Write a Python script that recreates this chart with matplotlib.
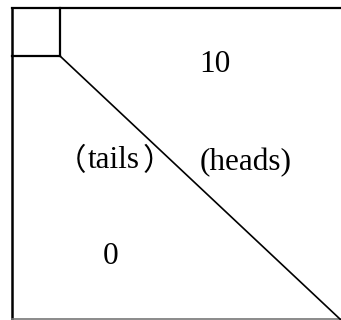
import matplotlib
matplotlib.use("Agg")
import matplotlib.pyplot as plt

# labels placed in the regions of the diagram
labels = ["10", "tails", "(heads)", "0"]
label_xy = [(215, 64), (114, 161), (246, 163), (111, 257)]

# box geometry in pixel units (y downwards)
box_left, box_top, box_right, box_bottom = 12, 8, 341, 319
corner = 48  # side of the small square in the top-left corner

fig = plt.figure(figsize=(3.41, 3.20), dpi=100)
ax = fig.add_axes([0, 0, 1, 1])
ax.set_xlim(0, 341)
ax.set_ylim(320, 0)
ax.axis("off")

# outer frame: top, left, bottom (no right edge)
ax.plot([box_left, box_right], [box_top, box_top], color="black", lw=1.6)
ax.plot([box_left, box_left], [box_top, 320], color="black", lw=1.8)
ax.plot([box_left, box_right], [box_bottom, box_bottom], color="#777777", lw=1.2)

# small square
cx, cy = box_left + corner, box_top + corner
ax.plot([cx, cx], [box_top, cy], color="black", lw=1.6)
ax.plot([box_left, cx], [cy, cy], color="black", lw=1.6)

# diagonal
ax.plot([cx, box_right], [cy, 320], color="black", lw=1.2)

serif = ["Liberation Serif", "Noto Sans CJK SC"]
for txt, (x, y) in zip(labels, label_xy):
    ax.text(x, y, txt, ha="center", va="center", fontsize=22.5, family=serif)

# full-width brackets around "tails"
cjk = ["Noto Sans CJK SC", "DejaVu Sans"]
ax.text(86, 162, "（", ha="right", va="center", fontsize=22, family=cjk,
        fontweight="light")
ax.text(143, 162, "）", ha="left", va="center", fontsize=22, family=cjk,
        fontweight="light")

fig.savefig("out.png", dpi=100)
